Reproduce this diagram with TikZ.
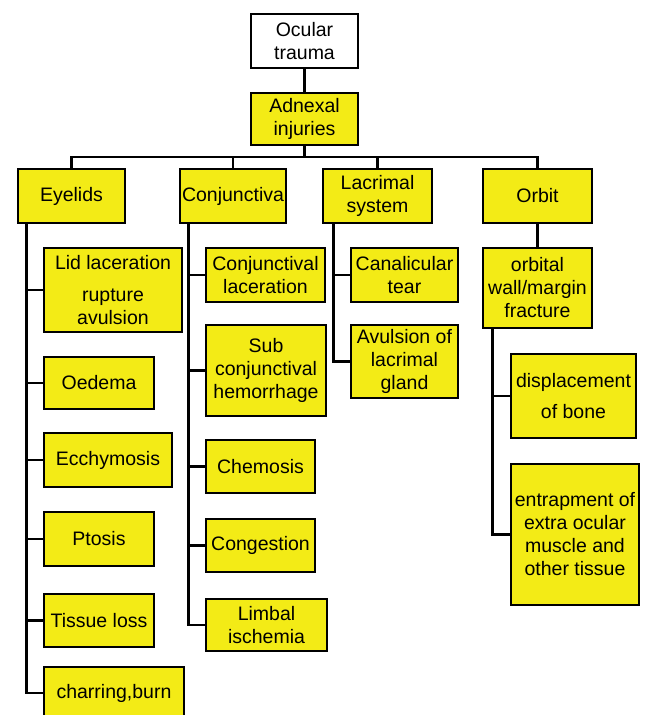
\documentclass[tikz,border=0pt]{standalone}
\usepackage{fontspec}
\setmainfont{Liberation Sans}
\usetikzlibrary{positioning}
\definecolor{injyellow}{HTML}{F3EB16}
\tikzset{
  box/.style={draw, line width=2.8pt, fill=injyellow, align=center, inner sep=0pt,
    font=\fontsize{19.5}{23}\selectfont},
  link/.style={line width=2.8pt}
}

\begin{document}
\begin{tikzpicture}[x=1pt, y=-1pt]
  \path[use as bounding box] (0,0) rectangle (645,715);
  \clip (0,0) rectangle (645,715);
  % root and adnexal level
  \node[box, fill=white, minimum width=107pt, minimum height=54pt] (ocular) at (304.5,41) {Ocular\\trauma};
  \node[box, minimum width=107pt, minimum height=52pt] (adnexal) at (304.5,119) {Adnexal\\injuries};
  \draw[link] (ocular) -- (adnexal);
  % the four groups
  \node[box, minimum width=107pt, minimum height=54pt] (eyelids) at (71.5,196) {Eyelids};
  \node[box, minimum width=106pt, minimum height=54pt] (conj) at (233,196) {Conjunctiva};
  \node[box, minimum width=109pt, minimum height=54pt] (lacrimal) at (377.5,196) {Lacrimal\\system};
  \node[box, minimum width=109pt, minimum height=54pt] (orbit) at (537.5,196) {Orbit};
  \coordinate (bus) at (304.5,157);
  \draw[link] (adnexal) -- (bus);
  \draw[link] (eyelids) |- (bus) -| (orbit);
  \draw[link] (conj) -- (conj |- bus);
  \draw[link] (lacrimal) -- (lacrimal |- bus);

  % eyelids
  \node[box, minimum width=138pt, minimum height=84pt] (lid) at (113,290) {Lid laceration\\[9pt]rupture\\avulsion};
  \node[box, minimum width=110pt, minimum height=52pt] (oedema) at (99,383) {Oedema};
  \node[box, minimum width=128pt, minimum height=54pt] (ecchy) at (108,460) {Ecchymosis};
  \node[box, minimum width=110pt, minimum height=54pt] (ptosis) at (99,539) {Ptosis};
  \node[box, minimum width=110pt, minimum height=53pt] (tissue) at (99,620.5) {Tissue loss};
  \node[box, minimum width=140pt, minimum height=52pt] (charring) at (114,693) {charring,burn};
  \coordinate (eyspine) at ([xshift=10pt]eyelids.south west);
  \draw[link] (eyspine) |- (charring.west);
  \foreach \n in {lid,oedema,ecchy,ptosis,tissue}
    \draw[link] (\n.west) -- (\n.west -| eyspine);

  % conjunctiva
  \node[box, minimum width=119pt, minimum height=54pt] (conjlac) at (265.5,275) {Conjunctival\\laceration};
  \node[box, minimum width=120pt, minimum height=91pt] (subconj) at (266,370.5) {Sub\\conjunctival\\hemorrhage};
  \node[box, minimum width=109pt, minimum height=53pt] (chemosis) at (260.5,466.5) {Chemosis};
  \node[box, minimum width=109pt, minimum height=53pt] (congestion) at (260.5,545.5) {Congestion};
  \node[box, minimum width=121pt, minimum height=52pt] (limbal) at (266.5,625) {Limbal\\ischemia};
  \coordinate (cjspine) at ([xshift=10pt]conj.south west);
  \draw[link] (cjspine) |- (limbal.west);
  \foreach \n in {conjlac,subconj,chemosis,congestion}
    \draw[link] (\n.west) -- (\n.west -| cjspine);

  % lacrimal system
  \node[box, minimum width=107pt, minimum height=54pt] (canal) at (404.5,275) {Canalicular\\tear};
  \node[box, minimum width=107pt, minimum height=73pt] (avulsion) at (404.5,361.5) {Avulsion of\\lacrimal\\gland};
  \coordinate (lcspine) at ([xshift=12pt]lacrimal.south west);
  \draw[link] (lcspine) |- (avulsion.west);
  \draw[link] (canal.west) -- (canal.west -| lcspine);

  % orbit
  \node[box, minimum width=109pt, minimum height=80pt] (fracture) at (537.5,288) {orbital\\wall/margin\\fracture};
  \draw[link] (orbit) -- (fracture);
  \node[box, minimum width=125pt, minimum height=84pt] (displace) at (573.5,396) {displacement\\[8pt]of bone};
  \node[box, minimum width=128pt, minimum height=141pt] (entrap) at (575,534.5) {entrapment of\\extra ocular\\muscle and\\other tissue};
  \coordinate (obspine) at ([xshift=11pt]fracture.south west);
  \draw[link] (obspine) |- (entrap.west);
  \draw[link] (displace.west) -- (displace.west -| obspine);
\end{tikzpicture}
\end{document}
